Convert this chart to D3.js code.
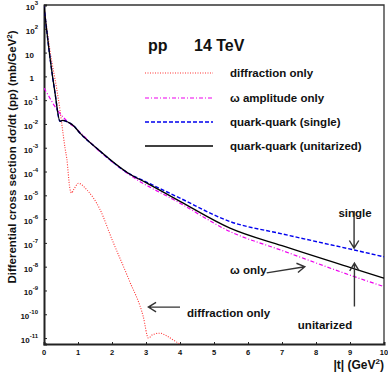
<!DOCTYPE html>
<html lang="en">
<head>
  <meta charset="utf-8">
  <title>pp 14 TeV differential cross section</title>
  <script src="https://d3js.org/d3.v7.min.js"></script>
  <style>
    body { margin: 0; background: #fff; }
    svg text { font-family: "Liberation Sans", Arial, sans-serif; font-weight: bold; fill: #111; }
    .curve { fill: none; }
  </style>
</head>
<body>
<svg id="chart" width="388" height="373"></svg>
<script>
  // |t| values (GeV^2) and dsigma/dt (mb/GeV^2)
  const unitT = [0, 0.18, 0.32, 0.47, 0.55, 0.65, 0.75, 0.86, 1.06, 1.55, 2.48, 3.0, 4.0, 5.47, 7.0, 9.13, 10];
  const unitY = [8.9e2, 5.6, 0.22, 1.3e-2, 1.4e-2, 1.3e-2, 1.1e-2, 8.7e-3, 4.1e-3, 9.5e-4, 8.5e-5, 3.4e-5, 5.6e-6, 4.2e-7, 7.6e-8, 8.1e-9, 3.3e-9];

  const singleT = [0, 0.18, 0.32, 0.47, 0.55, 0.65, 0.75, 0.86, 1.06, 1.55, 2.48, 3.0, 4.0, 5.47, 7.0, 9.13, 10];
  const singleY = [8.9e2, 5.6, 0.22, 1.3e-2, 1.4e-2, 1.3e-2, 1.1e-2, 8.7e-3, 4.1e-3, 9.5e-4, 8.5e-5, 3.7e-5, 7.6e-6, 7.9e-7, 2.4e-7, 5.0e-8, 2.6e-8];

  const omegaT = [0, 0.15, 0.3, 0.45, 0.6, 0.75, 0.9, 1.16, 1.55, 2.48, 4.0, 5.47, 7.0, 9.13, 10];
  const omegaY = [0.32, 0.14, 6.0e-2, 3.0e-2, 1.7e-2, 1.05e-2, 7.2e-3, 3.2e-3, 9.1e-4, 7.9e-5, 4.7e-6, 3.0e-7, 4.8e-8, 3.8e-9, 1.45e-9];

  const diffT = [0, 0.18, 0.37, 0.47, 0.52, 0.62, 0.67, 0.76, 0.81, 0.88, 1.01, 1.26, 1.65, 2.0, 2.5, 2.92, 3.07, 3.2, 3.41, 3.6, 3.8, 4.0];
  const diffY = [8.9e2, 11, 0.32, 3.9e-2, 1.1e-2, 9.5e-4, 3.5e-4, 2.0e-5, 1.26e-5, 1.8e-5, 3.2e-5, 1.7e-5, 2.5e-6, 1.4e-7, 2.8e-9, 7.9e-11, 1.0e-11, 1.4e-11, 1.6e-11, 1.26e-11, 8.3e-12, 5.6e-12];

  const xTicks = [0, 1, 2, 3, 4, 5, 6, 7, 8, 9, 10];
  const yExponents = [3, 2, 1, 0, -1, -2, -3, -4, -5, -6, -7, -8, -9, -10, -11];

  const legendLabels = ["diffraction only", "\u03c9 amplitude only", "quark-quark (single)", "quark-quark (unitarized)"];

  const svg = d3.select("#chart");
  const margin = {left: 44, right: 4, top: 5, bottom: 29};
  const width = 388, height = 373;

  const x = d3.scaleLinear().domain([0, 10]).range([margin.left, width - margin.right]);
  const y = d3.scaleLog().domain([Math.pow(10, -11.25), 1e3]).range([height - margin.bottom, margin.top]);

  svg.append("clipPath").attr("id", "plotClip")
    .append("rect")
    .attr("x", margin.left).attr("y", margin.top)
    .attr("width", width - margin.left - margin.right)
    .attr("height", height - margin.top - margin.bottom);

  // frame (top and right)
  svg.append("path")
    .attr("d", `M${x(0)},${y(1e3)}H${x(10)}V${y.range()[0]}`)
    .attr("fill", "none").attr("stroke", "#333").attr("stroke-width", 1.3);

  // left axis: inward ticks, labels drawn separately
  const yAxis = svg.append("g")
    .attr("transform", `translate(${margin.left},0)`)
    .call(d3.axisRight(y).tickValues(yExponents.map(e => Math.pow(10, e))).tickSize(3).tickFormat(""));
  yAxis.select(".domain").attr("stroke", "#222").attr("stroke-width", 2);
  yAxis.selectAll(".tick line").attr("stroke", "#222");

  const yLabels = svg.append("g");
  yExponents.forEach(e => {
    const t = yLabels.append("text")
      .attr("x", e === 1 || e === 0 ? 34 : 38)
      .attr("y", y(Math.pow(10, e)) + 5)
      .attr("text-anchor", "end")
      .style("font-size", "8px");
    if (e === 0) { t.text("1"); return; }
    t.append("tspan").text("10");
    if (e !== 1) {
      t.append("tspan").attr("dy", -5).style("font-size", "6px").text(e);
    }
  });

  // bottom axis
  const xAxis = svg.append("g")
    .attr("transform", `translate(0,${y.range()[0]})`)
    .call(d3.axisTop(x).tickValues(xTicks).tickSize(2).tickFormat(""));
  xAxis.select(".domain").attr("stroke", "#222").attr("stroke-width", 2);
  xAxis.selectAll(".tick line").attr("stroke", "#222");

  svg.append("g").selectAll("text")
    .data(xTicks)
    .join("text")
    .attr("x", d => x(d))
    .attr("y", y.range()[0] + 11)
    .attr("text-anchor", "middle")
    .style("font-size", "7.5px")
    .text(d => d);

  // axis titles
  const xTitle = svg.append("text")
    .attr("x", x(10))
    .attr("y", 369)
    .attr("text-anchor", "end")
    .style("font-size", "12px");
  xTitle.append("tspan").text("|t| (GeV");
  xTitle.append("tspan").attr("dy", -5).style("font-size", "8px").text("2");
  xTitle.append("tspan").attr("dy", 5).text(")");

  const yTitle = svg.append("text")
    .attr("transform", "translate(16,157) rotate(-90)")
    .attr("text-anchor", "middle")
    .style("font-size", "11.5px");
  yTitle.append("tspan").text("Differential cross section d\u03c3/dt (pp) (mb/GeV");
  yTitle.append("tspan").attr("dy", -4).style("font-size", "8px").text("2");
  yTitle.append("tspan").attr("dy", 4).text(")");

  // title
  svg.append("text").attr("x", 148).attr("y", 51).style("font-size", "16px").text("pp");
  svg.append("text").attr("x", 194).attr("y", 51).style("font-size", "16px").text("14 TeV");

  // curves
  const series = [
    {t: diffT, v: diffY, color: "#ff3333", dash: "1,1.5", w: 1.1},
    {t: omegaT, v: omegaY, color: "#ee00ee", dash: "4,2,1,2", w: 1.2},
    {t: singleT, v: singleY, color: "#0000ee", dash: "4,2", w: 1.4},
    {t: unitT, v: unitY, color: "#000", dash: null, w: 1.3}
  ];

  const line = d3.line()
    .x(d => x(d[0]))
    .y(d => y(d[1]))
    .curve(d3.curveMonotoneX);

  const plot = svg.append("g").attr("clip-path", "url(#plotClip)");
  series.forEach(s => {
    plot.append("path")
      .attr("class", "curve")
      .attr("d", line(d3.zip(s.t, s.v)))
      .attr("stroke", s.color)
      .attr("stroke-width", s.w)
      .attr("stroke-dasharray", s.dash);
  });

  // legend
  const legendRows = [73, 98, 122, 146];
  const legend = svg.append("g");
  legendLabels.forEach((label, i) => {
    const s = series[i];
    legend.append("line")
      .attr("x1", 145).attr("x2", 213)
      .attr("y1", legendRows[i]).attr("y2", legendRows[i])
      .attr("stroke", s.color)
      .attr("stroke-width", s.w)
      .attr("stroke-dasharray", s.dash);
    legend.append("text")
      .attr("x", 230).attr("y", legendRows[i] + 4)
      .style("font-size", "11.5px")
      .text(label);
  });

  // annotations with arrows (tail and head in data coordinates)
  const notes = [
    {text: "single", tx: 355, ty: 217, anchor: "middle", from: [9.12, 2.2e-6 ], to: [9.12, 6.0e-8]},
    {text: "\u03c9 only", tx: 230, ty: 274, anchor: "start", from: [6.55, 5.5e-9], to: [7.67, 1.0e-8]},
    {text: "unitarized", tx: 325, ty: 329, anchor: "middle", from: [9.13, 2.1e-10], to: [9.13, 1.4e-8]},
    {text: "diffraction only", tx: 187, ty: 317, anchor: "start", from: [4.0, 2.0e-10], to: [3.07, 2.0e-10]}
  ];
  const ann = svg.append("g");
  notes.forEach(n => {
    ann.append("text")
      .attr("x", n.tx).attr("y", n.ty)
      .attr("text-anchor", n.anchor)
      .style("font-size", "11.5px")
      .text(n.text);
    const x1 = x(n.from[0]), y1 = y(n.from[1]);
    const x2 = x(n.to[0]), y2 = y(n.to[1]);
    const a = Math.atan2(y2 - y1, x2 - x1);
    const len = 9, spread = 0.55;
    ann.append("path")
      .attr("d", `M${x1},${y1}L${x2},${y2}` +
        `M${x2 - len * Math.cos(a - spread)},${y2 - len * Math.sin(a - spread)}L${x2},${y2}` +
        `L${x2 - len * Math.cos(a + spread)},${y2 - len * Math.sin(a + spread)}`)
      .attr("fill", "none")
      .attr("stroke", "#333")
      .attr("stroke-width", 1.4);
  });
</script>
</body>
</html>
